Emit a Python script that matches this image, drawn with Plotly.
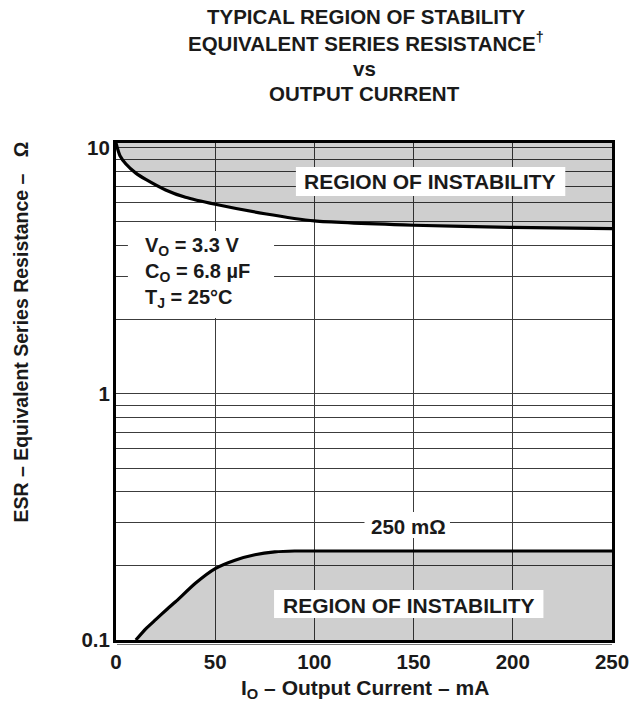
import plotly.graph_objects as go

# ---------------- data ----------------
upper_current = [0, 1, 2, 5, 10, 15, 25, 35, 50, 75, 100, 150, 200, 250]
upper_esr = [10.47, 9.8, 9.3, 8.6, 7.9, 7.45, 6.75, 6.3, 5.9, 5.4, 5.05, 4.85, 4.75, 4.7]

lower_current = [10, 15, 20, 26, 30, 40, 50, 60, 70, 80, 90, 95, 250]
lower_esr = [0.1, 0.111, 0.121, 0.134, 0.143, 0.17, 0.195, 0.211, 0.222, 0.228, 0.23, 0.23, 0.23]

x_ticks = [0, 50, 100, 150, 200, 250]
y_ticks = [0.1, 1, 10]
y_labels = ["0.1", "1", "10"]
y_minor = [0.2, 0.3, 0.4, 0.5, 0.6, 0.7, 0.8, 0.9,
           2, 3, 4, 5, 6, 7, 8, 9]

X_MIN, X_MAX = 0, 250
LOG_MIN, LOG_MAX = -1, 1.02
Y_MIN, Y_MAX = 10 ** LOG_MIN, 10 ** LOG_MAX

# ---------------- layout geometry ----------------
W, H = 641, 707
ML, MR, MT, MB = 116, 26, 143, 67
PW, PH = W - ML - MR, H - MT - MB

FONT = "Liberation Sans, Arial, Helvetica, sans-serif"
FILL = "rgba(0,0,0,0.19)"
GRID = "#3c3c3c"
INK = "#1a1a1a"


def px(x):
    return (x - ML) / PW


def py(y):
    return (H - MB - y) / PH


def bold(size):
    return dict(family=FONT, size=size, color=INK, weight="bold")


fig = go.Figure()

# upper region of instability (between curve and top of chart)
fig.add_trace(go.Scatter(x=[X_MIN, X_MAX], y=[Y_MAX, Y_MAX], mode="lines",
                         line=dict(width=0), hoverinfo="skip", showlegend=False))
fig.add_trace(go.Scatter(x=upper_current, y=upper_esr, mode="lines",
                         line=dict(color="black", width=3.2, shape="spline", smoothing=0.5),
                         fill="tonexty", fillcolor=FILL, showlegend=False))

# lower region of instability (between curve and bottom of chart)
fig.add_trace(go.Scatter(x=[lower_current[0], X_MAX], y=[Y_MIN, Y_MIN], mode="lines",
                         line=dict(width=0), hoverinfo="skip", showlegend=False))
fig.add_trace(go.Scatter(x=lower_current, y=lower_esr, mode="lines",
                         line=dict(color="black", width=3.2, shape="spline", smoothing=0.5),
                         fill="tonexty", fillcolor=FILL, showlegend=False))

fig.update_layout(
    width=W, height=H,
    margin=dict(l=ML, r=MR, t=MT, b=MB, pad=0),
    paper_bgcolor="white", plot_bgcolor="white",
    showlegend=False,
    xaxis=dict(range=[X_MIN, X_MAX], tickvals=x_ticks, showgrid=True,
               gridcolor=GRID, gridwidth=1.3, zeroline=False,
               showline=True, mirror=True, linecolor="black", linewidth=3,
               ticks="", tickfont=bold(20.5), ticklabelstandoff=1),
    yaxis=dict(type="log", range=[LOG_MIN, LOG_MAX], tickvals=y_ticks, ticktext=y_labels,
               showgrid=True, gridcolor=GRID, gridwidth=1.3, zeroline=False,
               showline=True, mirror=True, linecolor="black", linewidth=3,
               ticks="", tickfont=bold(20.5), ticklabelstandoff=-1,
               minor=dict(tickmode="array", tickvals=y_minor, showgrid=True,
                          gridcolor=GRID, gridwidth=1.3, ticks="")),
)

shapes = []
# white boxes behind labels
for (x0, x1, y0, y1) in [(297, 568, 167, 196),   # upper region label
                         (275, 546, 590, 618),   # lower region label
                         (128, 275, 231, 318),   # conditions block
                         (366, 452, 512, 538)]:  # 250 mOhm label
    shapes.append(dict(type="rect", xref="paper", yref="paper",
                       x0=px(x0), x1=px(x1), y0=py(y1), y1=py(y0),
                       fillcolor="white", line=dict(width=0), layer="above"))
# thin rule under the frame
shapes.append(dict(type="line", xref="paper", yref="paper",
                   x0=px(117), x1=px(615), y0=py(644.5), y1=py(644.5),
                   line=dict(color="#777", width=1.2), layer="above"))
fig.update_layout(shapes=shapes)

ann = []


def text(t, x, y, font, xanchor="center", yanchor="middle", angle=0):
    ann.append(dict(text=t, x=px(x), y=py(y), xref="paper", yref="paper",
                    showarrow=False, font=font, xanchor=xanchor, yanchor=yanchor,
                    textangle=angle))


# title
text("TYPICAL REGION OF STABILITY", 368, 16, bold(20.5))
text("EQUIVALENT SERIES RESISTANCE<sup>†</sup>", 368, 42, bold(20.5))
text("vs", 366, 68, bold(20.5))
text("OUTPUT CURRENT", 366, 94, bold(20.5))

# region labels
text("REGION OF INSTABILITY", 432, 182, bold(21))
text("REGION OF INSTABILITY", 411, 605, bold(21))
text("250 mΩ", 410, 526, bold(20.5))

# conditions
text("V<sub>O</sub> = 3.3 V", 143, 246, bold(20), xanchor="left")
text("C<sub>O</sub> = 6.8 µF", 143, 272, bold(20), xanchor="left")
text("T<sub>J</sub> = 25°C", 143, 298, bold(20), xanchor="left")

# axis titles
text("I<sub>O</sub> – Output Current – mA", 367, 689, bold(21))
text("ESR – Equivalent Series Resistance –   Ω", 20, 332, bold(19.5), angle=-90)

fig.update_layout(annotations=ann)

fig.write_html("out.html", config={"displayModeBar": False},
               post_script="document.body.style.margin='0';")
